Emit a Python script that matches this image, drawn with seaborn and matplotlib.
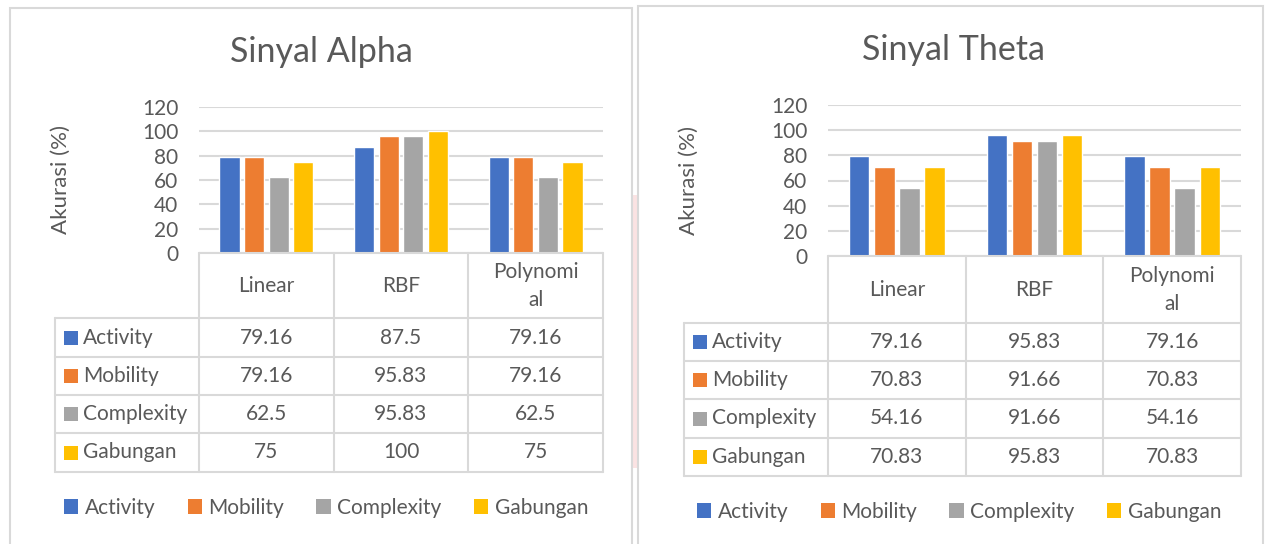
import matplotlib
matplotlib.use("Agg")
import matplotlib.pyplot as plt
from matplotlib.patches import Rectangle, Patch
from matplotlib.lines import Line2D
import seaborn as sns
import pandas as pd

# Data
kernels = ["Linear", "RBF", "Polynomial"]
kernel_labels = ["Linear", "RBF", "Polynomi\nal"]
features = ["Activity", "Mobility", "Complexity", "Gabungan"]
colors = ["#4472C4", "#ED7D31", "#A5A5A5", "#FFC000"]

alpha_activity = [79.16, 87.5, 79.16]
alpha_mobility = [79.16, 95.83, 79.16]
alpha_complexity = [62.5, 95.83, 62.5]
alpha_gabungan = [75, 100, 75]

theta_activity = [79.16, 95.83, 79.16]
theta_mobility = [70.83, 91.66, 70.83]
theta_complexity = [54.16, 91.66, 54.16]
theta_gabungan = [70.83, 95.83, 70.83]

alpha_vals = [alpha_activity, alpha_mobility, alpha_complexity, alpha_gabungan]
theta_vals = [theta_activity, theta_mobility, theta_complexity, theta_gabungan]

def to_df(vals):
    rows = []
    for f, series in zip(features, vals):
        for k, v in zip(kernels, series):
            rows.append({"kernel": k, "feature": f, "value": v})
    return pd.DataFrame(rows)

sns.set_theme(style="white")
plt.rcParams["font.family"] = ["Lato", "DejaVu Sans"]

W, H = 1271, 544
TXT = "#595959"
GRID = "#D9D9D9"
fig = plt.figure(figsize=(W / 100, H / 100), dpi=100)
fig.patch.set_facecolor("white")

def fx(x):
    return x / W

def fy(y):
    return 1 - y / H

def hline(x0, x1, y):
    fig.add_artist(Line2D([fx(x0), fx(x1)], [fy(y), fy(y)], color=GRID, lw=1.5))

def vline(x, y0, y1):
    fig.add_artist(Line2D([fx(x), fx(x)], [fy(y0), fy(y1)], color=GRID, lw=1.5))

# faint watermark strip between the two charts
fig.add_artist(Rectangle((fx(632), fy(468)), fx(637) - fx(632), fy(195) - fy(468),
                         facecolor="#FBE3E3", edgecolor="none"))

panels = [
    dict(title="Sinyal Alpha", vals=alpha_vals, frame=(10, 8, 632), title_xy=(321, 52),
         ax=(199, 603, 107, 253), ylab_x=61, rowlab_x=55, head_bot=318,
         rows=[318, 357, 395, 433, 472], leg=(326, 508)),
    dict(title="Sinyal Theta", vals=theta_vals, frame=(638, 6, 1263), title_xy=(954, 50),
         ax=(828, 1241, 105, 256), ylab_x=689, rowlab_x=684, head_bot=323,
         rows=[323, 361, 399, 438, 476], leg=(959, 512)),
]

for p in panels:
    x0, y0, x1 = p["frame"]
    fig.add_artist(Rectangle((fx(x0), fy(H + 5)), fx(x1) - fx(x0), fy(y0) - fy(H + 5),
                             facecolor="none", edgecolor=GRID, lw=1.5))
    fig.text(fx(p["title_xy"][0]), fy(p["title_xy"][1]), p["title"], ha="center", va="center",
             fontsize=24.5, color=TXT)

    ax_l, ax_r, ax_t, ax_b = p["ax"]
    ax = fig.add_axes([fx(ax_l), fy(ax_b), fx(ax_r) - fx(ax_l), fy(ax_t) - fy(ax_b)])
    df = to_df(p["vals"])
    sns.barplot(data=df, x="kernel", y="value", hue="feature", palette=colors, width=0.73,
                gap=0.18, saturation=1, legend=False, ax=ax)
    ax.set_ylim(0, 120)
    ax.set_xlim(-0.5, 2.5)
    ax.set_yticks(range(0, 121, 20))
    ax.yaxis.grid(True, color=GRID, lw=1.5)
    ax.set_axisbelow(True)
    for s in ax.spines.values():
        s.set_visible(False)
    ax.set_xticks([])
    ax.set_xlabel("")
    ax.set_ylabel("")
    ax.tick_params(axis="y", length=0, labelsize=15, labelcolor=TXT, pad=15)
    fig.text(fx(p["ylab_x"]), fy((ax_t + ax_b) / 2), "Akurasi (%)", rotation=90,
             ha="center", va="center", fontsize=16, color=TXT)

    # data table
    col_w = (ax_r - ax_l) / 3
    cols = [ax_l + i * col_w for i in range(4)]
    rows = p["rows"]
    hline(ax_l, ax_r, ax_b)
    for y in rows:
        hline(p["rowlab_x"], ax_r, y)
    for x in cols:
        vline(x, ax_b, rows[-1])
    vline(p["rowlab_x"], rows[0], rows[-1])
    for i, lab in enumerate(kernel_labels):
        fig.text(fx(cols[i] + col_w / 2), fy((ax_b + p["head_bot"]) / 2), lab, ha="center",
                 va="center", fontsize=15, color=TXT, linespacing=1.5)
    for r, (f, c, series) in enumerate(zip(features, colors, p["vals"])):
        yc = (rows[r] + rows[r + 1]) / 2
        sq = 14
        fig.add_artist(Rectangle((fx(p["rowlab_x"] + 9), fy(yc + sq / 2)), fx(sq), sq / H,
                                 facecolor=c, edgecolor="none"))
        fig.text(fx(p["rowlab_x"] + 28), fy(yc), f, ha="left", va="center", fontsize=15, color=TXT)
        for i, v in enumerate(series):
            fig.text(fx(cols[i] + col_w / 2), fy(yc), f"{v:g}", ha="center", va="center",
                     fontsize=15, color=TXT)

    handles = [Patch(facecolor=c, edgecolor="none", label=f) for f, c in zip(features, colors)]
    fig.legend(handles=handles, loc="center", bbox_to_anchor=(fx(p["leg"][0]), fy(p["leg"][1])),
               ncol=4, frameon=False, fontsize=15, labelcolor=TXT, handlelength=0.7,
               handleheight=0.7, handletextpad=0.3, columnspacing=1.55)

fig.savefig("out.png", dpi=100, facecolor="white")
